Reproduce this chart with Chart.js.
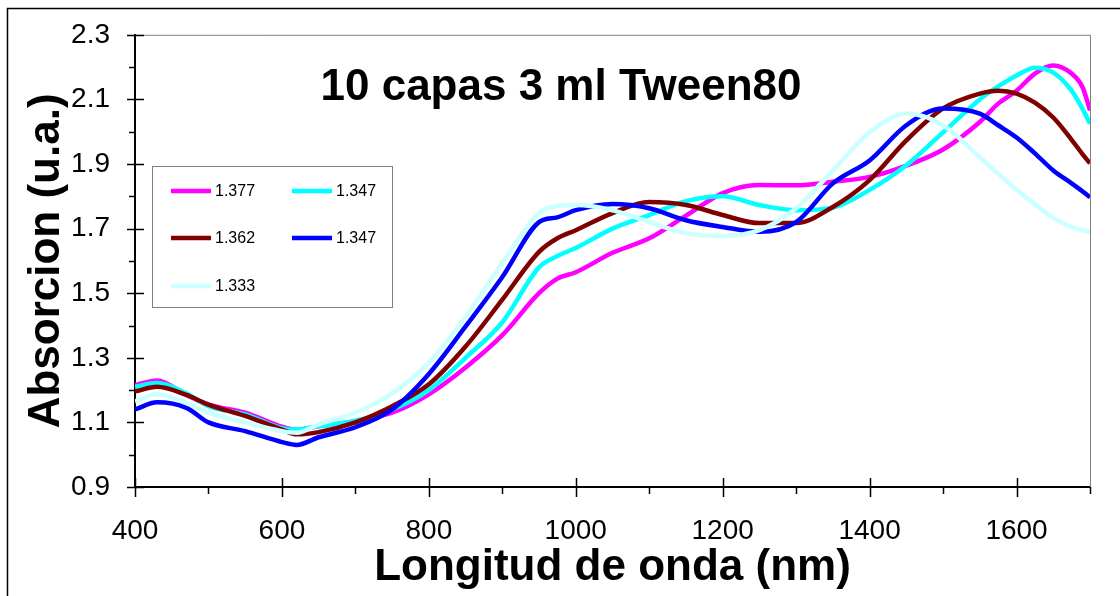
<!DOCTYPE html>
<html>
<head>
<meta charset="utf-8">
<script src="https://cdn.jsdelivr.net/npm/chart.js@4/dist/chart.umd.min.js"></script>
<style>
html, body { margin: 0; padding: 0; background: #fff; }
</style>
</head>
<body>
<canvas id="spectre" width="1120" height="596"></canvas>
<script>
// Longueurs d'onde (nm) et absorbance de chaque indice
var longueurs = [400, 430, 470, 500, 550, 600, 620, 650, 700, 750, 800, 850, 900, 950, 975, 1000, 1050, 1100, 1150, 1200, 1250, 1300, 1350, 1400, 1450, 1500, 1550, 1575, 1600, 1625, 1650, 1675, 1690, 1700];
var series = ['1.377', '1.347', '1.362', '1.347', '1.333'];
var abs1377 = [1.215, 1.230, 1.185, 1.155, 1.130, 1.087, 1.078, 1.088, 1.104, 1.130, 1.187, 1.270, 1.370, 1.500, 1.545, 1.565, 1.625, 1.670, 1.740, 1.810, 1.835, 1.834, 1.845, 1.860, 1.895, 1.945, 2.030, 2.087, 2.127, 2.180, 2.205, 2.180, 2.137, 2.066];
var abs1347a = [1.210, 1.222, 1.190, 1.150, 1.125, 1.082, 1.078, 1.088, 1.105, 1.140, 1.200, 1.300, 1.410, 1.580, 1.615, 1.640, 1.700, 1.742, 1.785, 1.800, 1.773, 1.757, 1.765, 1.820, 1.896, 1.998, 2.100, 2.140, 2.174, 2.198, 2.183, 2.127, 2.070, 2.025];
var abs1362 = [1.196, 1.210, 1.185, 1.155, 1.120, 1.078, 1.063, 1.070, 1.100, 1.150, 1.218, 1.335, 1.480, 1.628, 1.670, 1.695, 1.748, 1.782, 1.773, 1.742, 1.717, 1.717, 1.767, 1.850, 1.973, 2.072, 2.118, 2.127, 2.118, 2.090, 2.044, 1.975, 1.930, 1.902];
var abs1347b = [1.140, 1.162, 1.145, 1.100, 1.073, 1.039, 1.030, 1.054, 1.085, 1.140, 1.250, 1.397, 1.550, 1.720, 1.735, 1.757, 1.776, 1.763, 1.726, 1.705, 1.690, 1.720, 1.840, 1.911, 2.020, 2.072, 2.056, 2.020, 1.982, 1.933, 1.880, 1.840, 1.815, 1.797];
var abs1333 = [1.165, 1.187, 1.160, 1.130, 1.100, 1.073, 1.068, 1.094, 1.130, 1.190, 1.285, 1.427, 1.594, 1.748, 1.770, 1.773, 1.757, 1.720, 1.686, 1.677, 1.695, 1.763, 1.880, 1.998, 2.056, 2.020, 1.921, 1.870, 1.820, 1.775, 1.733, 1.705, 1.695, 1.690];
var couleurs = ['#FF00FF', '#00FFFF', '#800000', '#0000FF', '#CCFFFF'];

// Graduations
var xGraduations = [400, 500, 600, 700, 800, 900, 1000, 1100, 1200, 1300, 1400, 1500, 1600, 1700];
var xEtiquettes = ['400', '600', '800', '1000', '1200', '1400', '1600'];
var yGraduations = [0.9, 1.0, 1.1, 1.2, 1.3, 1.4, 1.5, 1.6, 1.7, 1.8, 1.9, 2.0, 2.1, 2.2, 2.3];
var yEtiquettes = ['0.9', '1.1', '1.3', '1.5', '1.7', '1.9', '2.1', '2.3'];

var police = '"Liberation Sans", Arial, sans-serif';

function points(valeurs) {
  return longueurs.map(function (l, i) { return { x: l, y: valeurs[i] }; });
}

var toutes = [abs1377, abs1347a, abs1362, abs1347b, abs1333];
var datasets = toutes.map(function (v, i) {
  return {
    label: series[i],
    data: points(v),
    borderColor: couleurs[i],
    backgroundColor: couleurs[i],
    borderWidth: 4.5,
    pointRadius: 0,
    cubicInterpolationMode: 'monotone',
    order: toutes.length - i // la dernière série passe au-dessus
  };
});

// Cadre, graduations, titre et légende dessinés à la main
var decor = {
  id: 'decor',
  beforeDraw: function (chart) {
    var ctx = chart.ctx;
    ctx.save();
    ctx.fillStyle = '#fff';
    ctx.fillRect(0, 0, chart.width, chart.height);
    ctx.restore();
  },
  afterDraw: function (chart) {
    var ctx = chart.ctx, a = chart.chartArea;
    var xs = chart.scales.x, ys = chart.scales.y;
    ctx.save();

    // cadre extérieur
    ctx.strokeStyle = '#000';
    ctx.lineWidth = 1.5;
    ctx.strokeRect(7.5, 8.5, 1200, 700);

    // bords haut et droit de la zone de tracé
    ctx.strokeStyle = '#808080';
    ctx.lineWidth = 1;
    ctx.beginPath();
    ctx.moveTo(a.left, a.top + 0.5);
    ctx.lineTo(a.right + 0.5, a.top + 0.5);
    ctx.lineTo(a.right + 0.5, a.bottom);
    ctx.stroke();

    // graduations
    ctx.strokeStyle = '#000';
    ctx.lineWidth = 1.5;
    ctx.beginPath();
    xGraduations.forEach(function (v) {
      var px = Math.round(xs.getPixelForValue(v)) + 0.5;
      if (v % 200 === 0) { ctx.moveTo(px, a.bottom - 9); ctx.lineTo(px, a.bottom + 10); }
      else { ctx.moveTo(px, a.bottom); ctx.lineTo(px, a.bottom + 7); }
    });
    yGraduations.forEach(function (v, i) {
      var py = Math.round(ys.getPixelForValue(v)) + 0.5;
      if (i % 2 === 0) { ctx.moveTo(a.left - 8, py); ctx.lineTo(a.left + 9, py); }
      else { ctx.moveTo(a.left - 6, py); ctx.lineTo(a.left, py); }
    });
    ctx.stroke();

    // titre dans la zone de tracé
    ctx.fillStyle = '#000';
    ctx.font = 'bold 44px ' + police;
    ctx.textAlign = 'center';
    ctx.textBaseline = 'alphabetic';
    ctx.fillText('10 capas 3 ml Tween80', 561, 100);

    // légende
    ctx.fillStyle = '#fff';
    ctx.fillRect(153, 167, 240, 141);
    ctx.strokeStyle = '#808080';
    ctx.lineWidth = 1;
    ctx.strokeRect(152.5, 166.5, 240, 141);
    var colX = [171, 292], rowY = [191, 238, 286];
    ctx.font = '16px ' + police;
    ctx.textAlign = 'left';
    ctx.textBaseline = 'middle';
    chart.data.datasets.forEach(function (ds, i) {
      var x = colX[i % 2], y = rowY[Math.floor(i / 2)];
      ctx.strokeStyle = ds.borderColor;
      ctx.lineWidth = 4.5;
      ctx.beginPath();
      ctx.moveTo(x, y);
      ctx.lineTo(x + 40, y);
      ctx.stroke();
      ctx.fillStyle = '#000';
      ctx.fillText(ds.label, x + 44, y + 1);
    });
    ctx.restore();
  }
};

var ctx = document.getElementById('spectre').getContext('2d');
var graphique = new Chart(ctx, {
  type: 'line',
  data: { datasets: datasets },
  options: {
    responsive: false,
    animation: false,
    layout: { padding: { top: 34, right: 30, left: 0, bottom: 0 } },
    plugins: {
      legend: { display: false },
      tooltip: { enabled: false }
    },
    scales: {
      x: {
        type: 'linear',
        min: 400,
        max: 1700,
        afterFit: function (s) { s.height = 109; },
        afterBuildTicks: function (s) { s.ticks = xGraduations.map(function (v) { return { value: v }; }); },
        ticks: {
          autoSkip: false,
          maxRotation: 0,
          padding: 20,
          color: '#000',
          font: { family: police, size: 28 },
          callback: function (v) { return xEtiquettes.indexOf(String(v)) >= 0 ? String(v) : ''; }
        },
        grid: { drawOnChartArea: false, tickLength: 7, color: 'rgba(0,0,0,0)' },
        border: { color: '#000', width: 2 },
        title: {
          display: true,
          text: 'Longitud de onda (nm)',
          color: '#000',
          font: { family: police, size: 44, weight: 'bold' },
          padding: { top: 0, bottom: 2 }
        }
      },
      y: {
        min: 0.9,
        max: 2.3,
        afterFit: function (s) { s.width = 135; },
        afterBuildTicks: function (s) { s.ticks = yGraduations.map(function (v) { return { value: v }; }); },
        ticks: {
          autoSkip: false,
          padding: 18,
          color: '#000',
          font: { family: police, size: 28 },
          callback: function (v) { var t = v.toFixed(1); return yEtiquettes.indexOf(t) >= 0 ? t : ''; }
        },
        grid: { drawOnChartArea: false, tickLength: 7, color: 'rgba(0,0,0,0)' },
        border: { color: '#000', width: 2 },
        title: {
          display: true,
          text: 'Absorcion (u.a.)',
          color: '#000',
          font: { family: police, size: 44, weight: 'bold' },
          padding: { top: 20, bottom: 0 }
        }
      }
    }
  },
  plugins: [decor]
});
</script>
</body>
</html>
